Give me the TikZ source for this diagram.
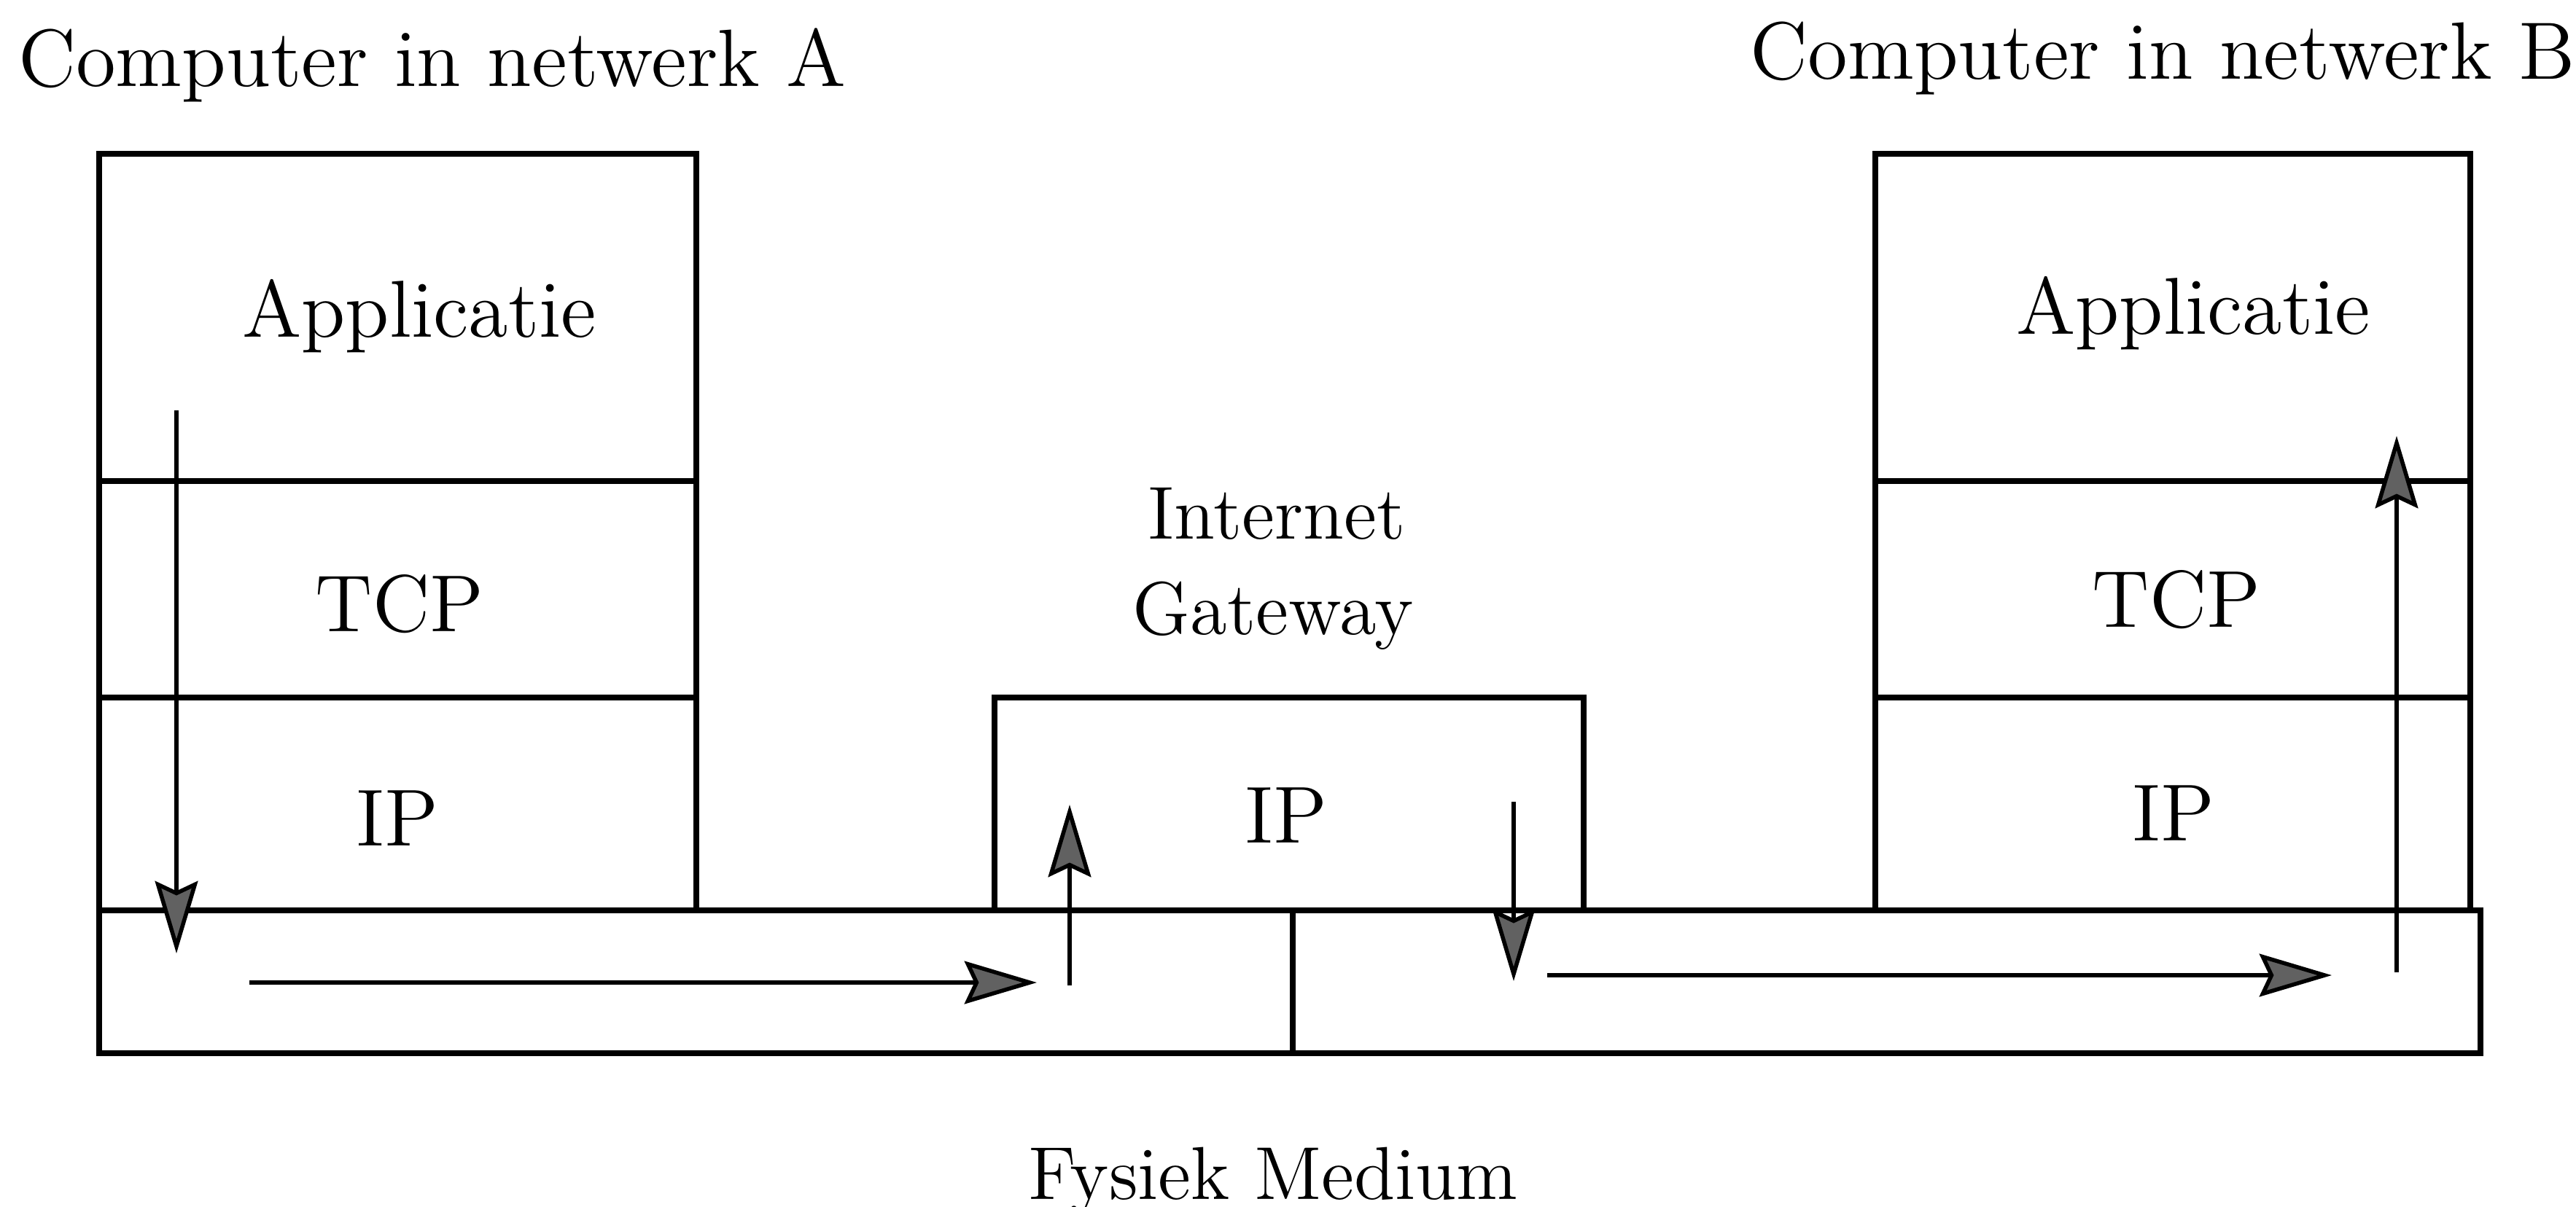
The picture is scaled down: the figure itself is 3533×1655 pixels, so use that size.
\documentclass[tikz,border=0pt]{standalone}
\usetikzlibrary{arrows.meta}
\begin{document}
\begin{tikzpicture}[x=0.044381mm,y=-0.044381mm,
  box/.style={draw=black,line width=0.9pt},
  flow/.style={draw=black,line width=0.7pt,-{Stealth[length=4.4mm,width=2.6mm,inset=0.6mm,fill=black!62]}},
  title/.style={font=\fontsize{13pt}{15pt}\selectfont,anchor=base,inner sep=0pt},
  bigtitle/.style={font=\fontsize{14.1pt}{16pt}\selectfont,anchor=base,inner sep=0pt},
  layertext/.style={font=\fontsize{14pt}{16pt}\selectfont,anchor=base,inner sep=0pt}]
\useasboundingbox (0,0) rectangle (3533,1655);

% titles
\node[bigtitle] (titleA) at (593,118) {Computer in netwerk A};
\node[bigtitle] (titleB) at (2966,108) {Computer in netwerk B};

% left stack
\draw[box] (136,1249) -- (136,211) -- (955,211) -- (955,1249);
\draw[box] (136,660) -- (955,660);
\draw[box] (136,957) -- (955,957);
\node[layertext] (appA) at (575,462) {Applicatie};
\node[layertext] (tcpA) at (548,866) {TCP};
\node[layertext] (ipA) at (545,1160) {IP};

% right stack
\draw[box] (2572,1249) -- (2572,211) -- (3388,211) -- (3388,1249);
\draw[box] (2572,660) -- (3388,660);
\draw[box] (2572,957) -- (3388,957);
\node[layertext] (appB) at (3008,458) {Applicatie};
\node[layertext] (tcpB) at (2985,860) {TCP};
\node[layertext] (ipB) at (2981,1153) {IP};

% gateway
\draw[box] (1364,1249) -- (1364,957) -- (2172,957) -- (2172,1249);
\node[layertext] (ipG) at (1764,1156) {IP};
\node[title] (inet) at (1751,739) {Internet};
\node[title] (gway) at (1746,870) {Gateway};

% physical medium
\draw[box] (136,1249) rectangle (3402,1445);
\draw[box] (1773,1249) -- (1773,1445);
\node[title] (medium) at (1746,1645) {Fysiek Medium};

% flow arrows
\coordinate (a1s) at (242,563);  \coordinate (a1e) at (242,1308);
\coordinate (a2s) at (342,1348); \coordinate (a2e) at (1422,1348);
\coordinate (a3s) at (1467,1352); \coordinate (a3e) at (1467,1104);
\coordinate (a4s) at (2076,1100); \coordinate (a4e) at (2076,1346);
\coordinate (a5s) at (2122,1338); \coordinate (a5e) at (3198,1338);
\coordinate (a6s) at (3287,1334); \coordinate (a6e) at (3287,598);
\draw[flow] (a1s) -- (a1e);
\draw[flow] (a2s) -- (a2e);
\draw[flow] (a3s) -- (a3e);
\draw[flow] (a4s) -- (a4e);
\draw[flow] (a5s) -- (a5e);
\draw[flow] (a6s) -- (a6e);
\end{tikzpicture}
\end{document}
